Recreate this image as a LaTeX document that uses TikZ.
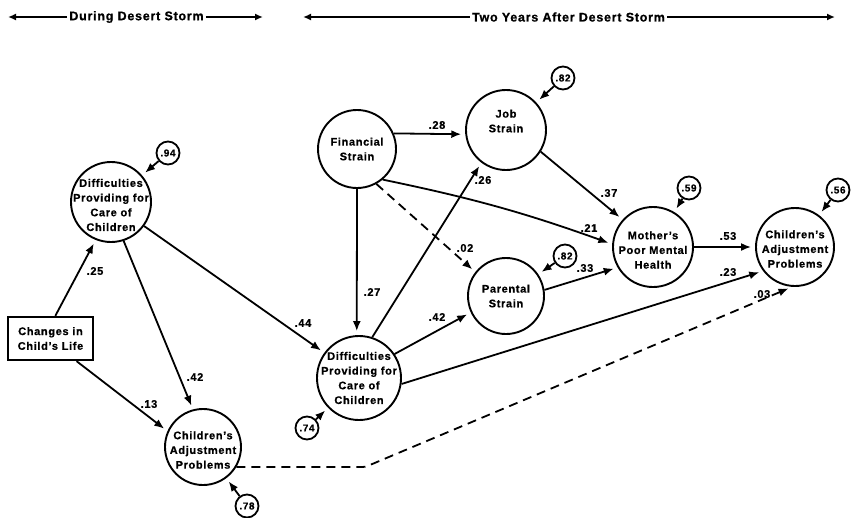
\documentclass[tikz,border=0pt]{standalone}
\usepackage{fontspec}
\setmainfont{Liberation Sans}[LetterSpace=6, BoldFeatures={FakeBold=0.8}]
\usetikzlibrary{arrows.meta}
\begin{document}
\begin{tikzpicture}[x=1pt,y=-1pt,
  big/.style={draw, circle, line width=1.9pt, inner sep=0pt},
  lbl/.style={align=center, font=\fontsize{11}{14.7}\selectfont\bfseries, inner sep=0pt},
  err/.style={draw, circle, line width=1.8pt, inner sep=0.5pt, minimum size=23pt, font=\fontsize{10}{12}\selectfont\bfseries},
  coef/.style={font=\fontsize{11}{13}\selectfont\bfseries, inner sep=0pt},
  arr/.style={line width=1.8pt, -{Latex[length=10pt,width=8pt]}, shorten >=4pt},
  darr/.style={arr, dash pattern=on 9pt off 6pt},
  hdr/.style={font=\fontsize{12.5}{14}\selectfont\bfseries, inner sep=2pt},
  harr/.style={line width=1.9pt, -{Latex[length=8pt,width=7pt]}}
]
\useasboundingbox (0,0) rectangle (851,517);

% headers
\node[hdr] (h1) at (136.5,17) {During Desert Storm};
\coordinate (h1l) at (8,17);
\coordinate (h1r) at (263,17);
\draw[harr] (h1.west) -- (h1l);
\draw[harr] (h1.east) -- (h1r);
\node[hdr] (h2) at (568.5,17) {Two Years After Desert Storm};
\coordinate (h2l) at (303,17);
\coordinate (h2r) at (835,17);
\draw[harr] (h2.west) -- (h2l);
\draw[harr] (h2.east) -- (h2r);

% main nodes
\node[big, minimum size=80pt, label={[lbl,yshift=-3pt]center:Difficulties\\Providing for\\Care of\\Children}] (lDP) at (111,202) {};
\node[draw, line width=2.3pt, minimum width=85pt, minimum height=43pt, lbl] (box) at (50.5,338.5) {Changes in\\Child's Life};
\node[big, minimum size=76pt, label={[lbl,yshift=-3pt]center:Children's\\Adjustment\\Problems}] (lCAP) at (203,447) {};
\node[big, minimum size=78pt, label={[lbl]center:Financial\\Strain}] (fin) at (357,149) {};
\node[big, minimum size=80pt, label={[lbl,yshift=9pt]center:Job\\Strain}] (job) at (506,130) {};
\node[big, minimum size=76pt, label={[lbl]center:Parental\\Strain}] (par) at (506,296) {};
\node[big, minimum size=84pt, label={[lbl]center:Difficulties\\Providing for\\Care of\\Children}] (mDP) at (359,378) {};
\node[big, minimum size=80pt, label={[lbl,yshift=-3pt]center:Mother's\\Poor Mental\\Health}] (mom) at (653,247) {};
\node[big, minimum size=78pt, label={[lbl,yshift=-2pt]center:Children's\\Adjustment\\Problems}] (rCAP) at (795,247) {};

% error terms
\node[err] (e94) at (168,153) {.94};
\node[err] (e78) at (247,506) {.78};
\node[err] (e82a) at (563,78) {.82};
\node[err] (e82b) at (565,256) {.82};
\node[err] (e74) at (307,428) {.74};
\node[err] (e59) at (689,188) {.59};
\node[err] (e56) at (838,190) {.56};

\draw[arr] (e94) -- (lDP);
\draw[arr] (e78) -- (lCAP);
\draw[arr] (e82a) -- (job);
\draw[arr] (e82b) -- (par);
\draw[arr] (e74) -- (mDP);
\draw[arr] (e59) -- (mom);
\draw[arr] (e56) -- (rCAP);

% paths
\draw[arr] (box.78) -- (lDP.-112);
\draw[arr] (box.-41) -- (lCAP.156);
\draw[arr] (lDP.-72) -- (lCAP.105);
\draw[arr] (lDP.-36) -- (mDP.144);
\draw[arr] (fin.23) -- (job.186);
\draw[arr] (fin.-90) -- (mDP.93);
\draw[darr] (fin.-61) -- (par.142);
\draw[arr] (fin.-50) to[bend left=4] (mom.176);
\draw[arr] (job.-32) -- (mom.138);
\draw[arr] (par.9) -- (mom.210);
\draw[arr] (mom.0) -- (rCAP.180);
\draw[arr] (mDP.72) -- (job.233);
\draw[arr] (mDP.34) -- (par.205);
\draw[arr] (mDP.-8) -- (rCAP.217);
\coordinate (dk) at (365,468);
\draw[darr, rounded corners=3pt] (lCAP.-31) -- (lCAP.-31 -| dk) -- (rCAP.-94);

% coefficients
\node[coef] (c25) at (95,271) {.25};
\node[coef] (c42a) at (195,377) {.42};
\node[coef] (c13) at (149,404) {.13};
\node[coef] (c44) at (303,323) {.44};
\node[coef] (c27) at (372,292) {.27};
\node[coef] (c28) at (437,125) {.28};
\node[coef] (c26) at (483,180) {.26};
\node[coef] (c02) at (465,248) {.02};
\node[coef] (c42b) at (437,317) {.42};
\node[coef] (c37) at (609,193) {.37};
\node[coef] (c21) at (589,228) {.21};
\node[coef] (c33) at (585,268) {.33};
\node[coef] (c53) at (728,236) {.53};
\node[coef] (c23) at (728,272) {.23};
\node[coef] (c03) at (762,294) {.03};
\end{tikzpicture}
\end{document}
